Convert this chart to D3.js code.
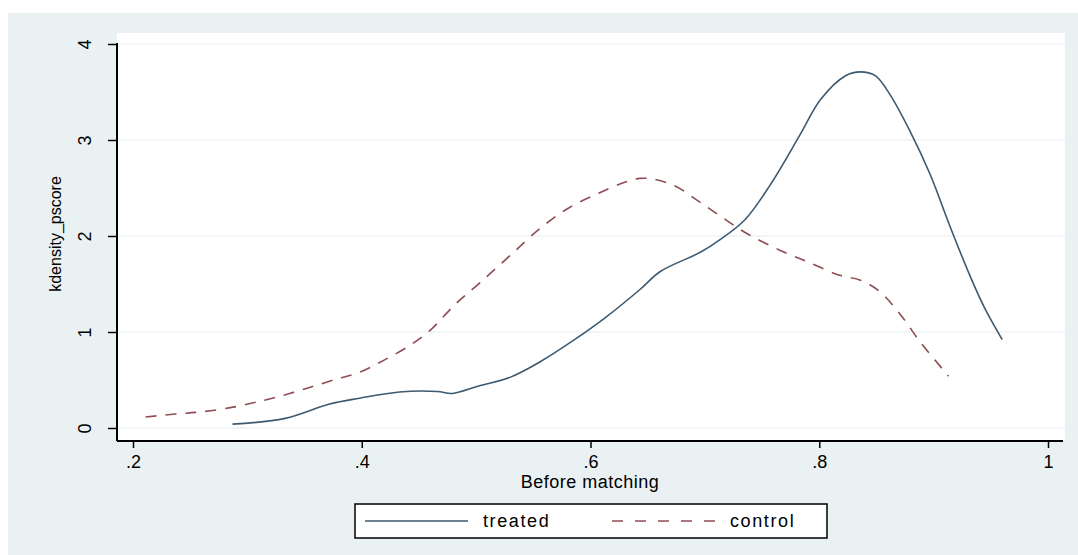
<!DOCTYPE html>
<html>
<head>
<meta charset="utf-8">
<script src="https://cdn.jsdelivr.net/npm/d3@7"></script>
<style>
  body { margin: 0; background: #fff; }
  text { font-family: "Liberation Sans", Arial, sans-serif; fill: #000; }
</style>
</head>
<body>
<script>
const width = 1078;
const height = 555;

// kernel density estimates
const treatedX = [0.287, 0.333, 0.372, 0.398, 0.433, 0.466, 0.479, 0.503, 0.530, 0.556, 0.586, 0.613, 0.643, 0.661, 0.696, 0.713, 0.735, 0.757, 0.783, 0.801, 0.823, 0.836, 0.849, 0.862, 0.879, 0.897, 0.914, 0.932, 0.945, 0.960];
const treatedY = [0.04, 0.10, 0.25, 0.31, 0.375, 0.38, 0.36, 0.44, 0.53, 0.69, 0.92, 1.15, 1.44, 1.63, 1.83, 1.96, 2.17, 2.53, 3.05, 3.42, 3.67, 3.71, 3.67, 3.47, 3.10, 2.64, 2.11, 1.58, 1.24, 0.92];
const controlX = [0.211, 0.237, 0.259, 0.289, 0.315, 0.337, 0.359, 0.381, 0.398, 0.420, 0.442, 0.460, 0.481, 0.503, 0.530, 0.556, 0.582, 0.608, 0.630, 0.643, 0.656, 0.674, 0.696, 0.718, 0.739, 0.766, 0.792, 0.818, 0.836, 0.853, 0.871, 0.888, 0.901, 0.913];
const controlY = [0.115, 0.146, 0.167, 0.22, 0.29, 0.36, 0.44, 0.52, 0.58, 0.71, 0.86, 1.02, 1.28, 1.51, 1.80, 2.08, 2.30, 2.45, 2.56, 2.60, 2.59, 2.52, 2.35, 2.17, 2.01, 1.85, 1.72, 1.59, 1.54, 1.42, 1.18, 0.90, 0.71, 0.54];

const xTicks = [0.2, 0.4, 0.6, 0.8, 1];
const xTickLabels = [".2", ".4", ".6", ".8", "1"];
const yTicks = [0, 1, 2, 3, 4];

const seriesNames = ["treated", "control"];
const colors = { treated: "#3d5a70", control: "#8f4d52" };

const svg = d3.select('body').append('svg')
  .attr('width', width)
  .attr('height', height);

// outer graph region
svg.append('rect').attr('x', 8).attr('y', 13)
  .attr('width', width - 8).attr('height', height - 13)
  .attr('fill', '#eaf1f3');

const plot = { left: 117, right: 1065, top: 33, bottom: 441 };

svg.append('rect').attr('x', plot.left).attr('y', plot.top)
  .attr('width', plot.right - plot.left).attr('height', plot.bottom - plot.top)
  .attr('fill', '#fff');

const x = d3.scaleLinear().domain([0.2, 1]).range([133, 1048]);
const y = d3.scaleLinear().domain([0, 4]).range([428, 44]);

// gridlines
svg.append('g').selectAll('line')
  .data(yTicks)
  .join('line')
  .attr('x1', plot.left).attr('x2', plot.right)
  .attr('y1', d => y(d)).attr('y2', d => y(d))
  .attr('stroke', '#e6eef0').attr('stroke-width', 1.2);

// y axis
const yAxis = svg.append('g')
  .attr('transform', `translate(${plot.left},0)`)
  .call(d3.axisLeft(y).tickValues(yTicks).tickSize(9).tickSizeOuter(0).tickFormat(d3.format('d')));
yAxis.select('.domain').attr('d', `M0,${plot.top + 10}V${plot.bottom}`).attr('stroke', '#000').attr('stroke-width', 2);
yAxis.selectAll('.tick line').attr('stroke', '#000').attr('stroke-width', 1.5);
yAxis.selectAll('.tick text')
  .attr('x', null).attr('dy', null)
  .attr('transform', 'translate(-26,0) rotate(-90)')
  .attr('text-anchor', 'middle')
  .style('font-size', '18px')
  .style('font-family', '"Liberation Sans", Arial, sans-serif');

// x axis
const xAxis = svg.append('g')
  .attr('transform', `translate(0,${plot.bottom})`)
  .call(d3.axisBottom(x).tickValues(xTicks).tickSize(7).tickSizeOuter(0)
    .tickFormat((d, i) => xTickLabels[i]));
xAxis.select('.domain').attr('d', `M${plot.left},0H${plot.right - 2}`).attr('stroke', '#000').attr('stroke-width', 2);
xAxis.selectAll('.tick line').attr('stroke', '#000').attr('stroke-width', 1.5);
xAxis.selectAll('.tick text')
  .attr('y', 14).attr('dy', '0.71em')
  .style('font-size', '18px')
  .style('font-family', '"Liberation Sans", Arial, sans-serif');

// axis titles
svg.append('text')
  .attr('transform', 'translate(61,234) rotate(-90)')
  .attr('text-anchor', 'middle')
  .style('font-size', '16px')
  .text('kdensity_pscore');

svg.append('text')
  .attr('x', 590).attr('y', 488)
  .attr('text-anchor', 'middle')
  .style('font-size', '18px')
  .style('letter-spacing', '0.5px')
  .text('Before matching');

// curves
const line = d3.line()
  .x(d => x(d[0]))
  .y(d => y(d[1]))
  .curve(d3.curveCatmullRom.alpha(0.5));

svg.append('path')
  .datum(d3.zip(treatedX, treatedY))
  .attr('d', line)
  .attr('fill', 'none')
  .attr('stroke', colors.treated)
  .attr('stroke-width', 1.6);

svg.append('path')
  .datum(d3.zip(controlX, controlY))
  .attr('d', line)
  .attr('fill', 'none')
  .attr('stroke', colors.control)
  .attr('stroke-width', 1.6)
  .attr('stroke-dasharray', '11,9');

// legend
const legend = svg.append('g');
legend.append('rect')
  .attr('x', 355).attr('y', 504).attr('width', 472).attr('height', 34)
  .attr('fill', '#fff').attr('stroke', '#000').attr('stroke-width', 1.5);

const legendItems = legend.selectAll('g.item')
  .data(seriesNames)
  .join('g')
  .attr('class', 'item')
  .attr('transform', (d, i) => `translate(${365 + i * 247},521)`);

legendItems.append('line')
  .attr('x1', 0).attr('x2', 103)
  .attr('stroke', d => colors[d])
  .attr('stroke-width', 1.6)
  .attr('stroke-dasharray', d => d === 'control' ? '11,12' : null);

legendItems.append('text')
  .attr('x', 118).attr('y', 6)
  .style('font-size', '18px')
  .style('letter-spacing', '1.6px')
  .text(d => d);
</script>
</body>
</html>
